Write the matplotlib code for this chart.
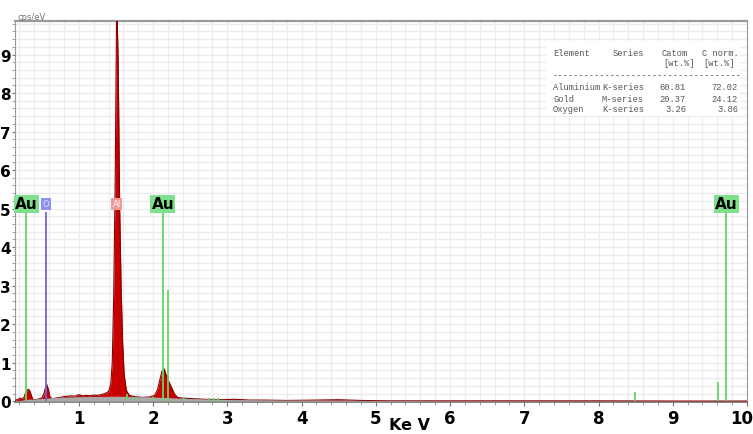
import numpy as np
import matplotlib
matplotlib.use("Agg")
import matplotlib.pyplot as plt
import matplotlib.transforms as mtransforms
from matplotlib.ticker import MultipleLocator


# ---------------------------------------------------------
#  Spectrum (keV, cps/eV)
# ---------------------------------------------------------
energy = [0.14, 0.18, 0.21, 0.24, 0.26, 0.28, 0.30, 0.32, 0.34, 0.36, 0.38,
          0.42, 0.46, 0.50, 0.53, 0.55, 0.57, 0.59, 0.61, 0.64, 0.68, 0.75,
          0.80, 0.85, 0.90, 0.95, 1.00, 1.05, 1.10, 1.15, 1.20, 1.25, 1.30,
          1.35, 1.40, 1.43, 1.45, 1.47, 1.49, 1.51, 1.53, 1.55, 1.57, 1.59,
          1.61, 1.64, 1.68, 1.75, 1.85, 1.95, 2.02, 2.06, 2.09, 2.12, 2.15,
          2.18, 2.21, 2.25, 2.29, 2.33, 2.40, 2.50, 2.70, 2.90, 3.10, 3.30,
          3.50, 3.80, 4.20, 4.50, 4.80, 5.20, 6.00, 7.00, 8.00, 9.00, 10.0]
counts = [0.02, 0.05, 0.08, 0.06, 0.10, 0.20, 0.28, 0.31, 0.27, 0.15, 0.05,
          0.04, 0.06, 0.08, 0.20, 0.35, 0.43, 0.30, 0.12, 0.06, 0.08, 0.10,
          0.12, 0.13, 0.14, 0.13, 0.17, 0.14, 0.15, 0.14, 0.16, 0.15, 0.17,
          0.20, 0.25, 0.45, 1.00, 2.80, 5.80, 10.5, 8.80, 5.00, 2.90, 1.50,
          0.70, 0.28, 0.15, 0.12, 0.10, 0.11, 0.15, 0.30, 0.55, 0.78, 0.84,
          0.66, 0.52, 0.35, 0.18, 0.10, 0.08, 0.07, 0.05, 0.04, 0.05, 0.03,
          0.03, 0.02, 0.03, 0.04, 0.02, 0.01, 0.01, 0.01, 0.01, 0.005, 0.005]

# background continuum (grey)
bg_energy = [0.14, 0.30, 0.50, 0.70, 1.00, 1.50, 2.00, 2.50, 3.00, 3.50,
             4.00, 5.00, 6.00, 8.00, 10.0]
bg_counts = [0.00, 0.05, 0.07, 0.10, 0.12, 0.13, 0.11, 0.07, 0.045, 0.035,
             0.03, 0.02, 0.012, 0.008, 0.005]

# element markers: label, energy, label height
marker_labels = ["Au", "O", "Al", "Au", "Au"]
marker_energy = [0.29, 0.56, 1.51, 2.13, 9.72]
marker_level = 5.12

# extra short line markers (keV, height)
au_lines_e = [2.20, 8.49, 9.61, 1.65, 1.75, 2.00, 2.42, 2.75, 2.82, 2.88]
au_lines_h = [2.90, 0.25, 0.50, 0.20, 0.10, 0.10, 0.12, 0.08, 0.08, 0.08]

# quantification table
tab_header = ["Element", "Series", "Catom", "C norm."]
tab_units = ["", "", "[wt.%]", "[wt.%]"]
tab_elements = ["Aluminium", "Gold", "Oxygen"]
tab_series = ["K-series", "M-series", "K-series"]
tab_catom = ["60.81", "20.37", "3.26"]
tab_cnorm = ["72.02", "24.12", "3.86"]

xticks = [1, 2, 3, 4, 5, 6, 7, 8, 9, 10]
yticks = [0, 1, 2, 3, 4, 5, 6, 7, 8, 9]


W, H = 753, 435
fig = plt.figure(figsize=(W / 100, H / 100), dpi=100)
ax = fig.add_axes([15 / W, 1 - 403 / H, (747 - 15) / W, (403 - 22) / H])

ax.set_xlim(0.14, 10.0)
ax.set_ylim(-0.02, 9.87)

# fine grid
ax.xaxis.set_minor_locator(MultipleLocator(0.2))
ax.yaxis.set_minor_locator(MultipleLocator(0.2))
ax.grid(which="both", color="#ececec", lw=0.9)
ax.set_axisbelow(True)

# spectrum
ax.fill_between(energy, 0, counts, color="#c80000", lw=0, zorder=2)
ax.plot(energy, counts, color="#8a0000", lw=0.8, zorder=3)
ax.fill_between(bg_energy, 0, bg_counts, color="#a8a8a8", lw=0, zorder=3)

# element markers
for lab, e in zip(marker_labels, marker_energy):
    if lab == "Au":
        ax.vlines(e, 0, marker_level - 0.2, color="#66d466", lw=1.3, zorder=4)
        ax.text(e, marker_level, lab, ha="center", va="center", fontsize=11,
                fontweight="bold", color="black", zorder=6,
                bbox=dict(boxstyle="square,pad=0.08", fc="#7ee08c", ec="none"))
    elif lab == "O":
        ax.vlines(e, 0, marker_level - 0.2, color="#6a6ad0", lw=1.3, zorder=4)
        ax.text(e, marker_level, lab, ha="center", va="center", fontsize=6,
                color="#dcdcff", zorder=6,
                bbox=dict(boxstyle="square,pad=0.2", fc="#8f8ff0", ec="none"))
    else:
        ax.text(e, marker_level, lab, ha="center", va="center", fontsize=6,
                color="#fff4f4", zorder=6,
                bbox=dict(boxstyle="square,pad=0.2", fc="#ec9a9a", ec="none"))

ax.vlines(au_lines_e, 0, au_lines_h, color="#66d466", lw=1.3, zorder=4)

# axes look
for s in ["left", "right", "top"]:
    ax.spines[s].set_color("#9a9a9a")
ax.spines["top"].set_linewidth(1.6)
ax.spines["bottom"].set_color("#707070")
ax.spines["bottom"].set_linewidth(1.2)

ax.set_xticks(xticks)
ax.set_yticks(yticks)
ax.set_xticklabels([str(t) for t in xticks], fontsize=12, fontweight="bold")
ax.set_yticklabels([str(t) for t in yticks], fontsize=11, fontweight="bold")
ax.tick_params(axis="x", which="major", length=3, color="#707070", pad=2)
ax.tick_params(axis="y", which="major", length=2, color="#707070", pad=1)
ax.tick_params(axis="both", which="minor", length=2, color="#909090")

# keep the last x label inside the figure
last = ax.get_xticklabels()[-1]
last.set_transform(last.get_transform() +
                   mtransforms.ScaledTranslation(-5 / 100, 0, fig.dpi_scale_trans))

fig.text(410 / W, 1 - 426 / H, "Ke V", ha="center", va="center",
         fontsize=11.5, fontweight="bold")
fig.text(18 / W, 1 - 17 / H, "cps/eV", ha="left", va="center",
         fontsize=6, color="#777777")

# quantification table
box = plt.Rectangle((546 / W, 1 - 117 / H), 194 / W, 75 / H,
                    transform=fig.transFigure, fc="white", ec="none", zorder=5)
fig.patches.append(box)

mono = dict(family="Liberation Mono", fontsize=6.3, color="#555555",
            va="center", zorder=7)
col_x = [553, 613, 662, 702]
for x, t in zip(col_x, tab_header):
    fig.text(x / W, 1 - 53 / H, t, ha="left", **mono)
for x, t in zip(col_x, tab_units):
    fig.text((x + 1) / W, 1 - 64 / H, t, ha="left", **mono)
fig.text(553 / W, 1 - 76 / H, "-" * 36, ha="left", **mono)
for i in range(len(tab_elements)):
    y = 1 - (88 + 11 * i) / H
    fig.text(553 / W, y, tab_elements[i], ha="left", **mono)
    fig.text(644 / W, y, tab_series[i], ha="right", **mono)
    fig.text(686 / W, y, tab_catom[i], ha="right", **mono)
    fig.text(738 / W, y, tab_cnorm[i], ha="right", **mono)

fig.savefig("out.png", dpi=100)
